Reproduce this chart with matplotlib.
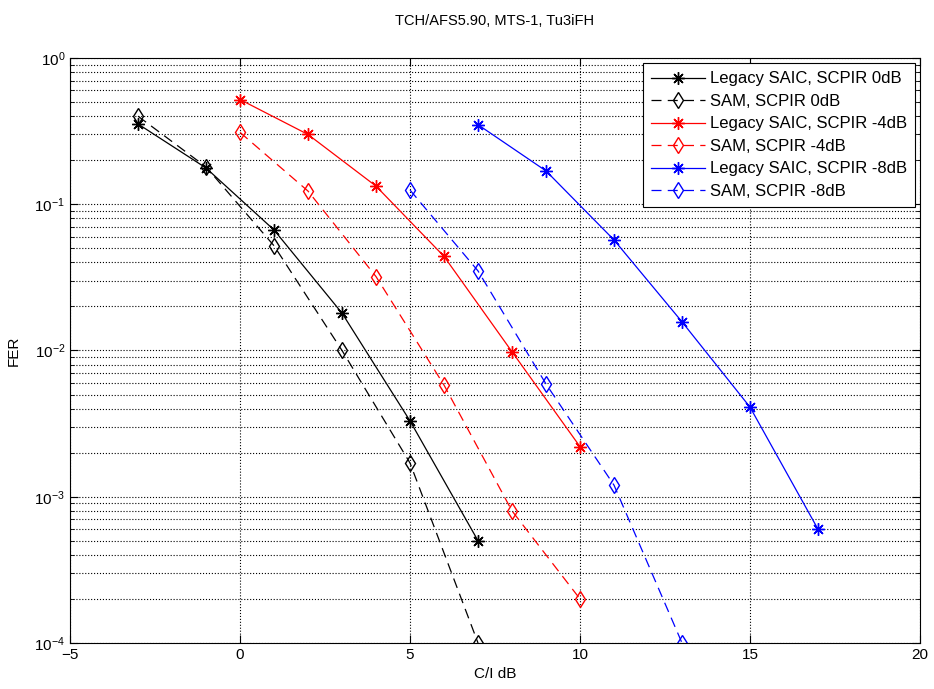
import numpy as np
import matplotlib.pyplot as plt

plt.rcParams['font.family'] = ['Liberation Sans', 'DejaVu Sans']
plt.rcParams['font.size'] = 10

# C/I values (dB) and FER readings
x_leg0 = [-3, -1, 1, 3, 5, 7]
fer_leg0 = [0.354, 0.177, 0.0667, 0.018, 0.0033, 5.0e-4]
x_sam0 = [-3, -1, 1, 3, 5, 7]
fer_sam0 = [0.40, 0.18, 0.052, 0.010, 0.0017, 1.0e-4]

x_leg4 = [0, 2, 4, 6, 8, 10]
fer_leg4 = [0.52, 0.30, 0.133, 0.044, 0.0098, 0.0022]
x_sam4 = [0, 2, 4, 6, 8, 10]
fer_sam4 = [0.31, 0.123, 0.032, 0.0058, 8.0e-4, 2.0e-4]

x_leg8 = [7, 9, 11, 13, 15, 17]
fer_leg8 = [0.35, 0.169, 0.057, 0.0157, 0.0041, 6.0e-4]
x_sam8 = [5, 7, 9, 11, 13]
fer_sam8 = [0.125, 0.035, 0.0059, 0.0012, 1.0e-4]

fig = plt.figure(figsize=(9.34, 6.89), dpi=100)
ax = fig.add_axes([0.075, 0.0668, 0.91, 0.849])

star = (8, 2, 0)
ax.semilogy(x_leg0, fer_leg0, 'k-', marker=star, ms=9, mew=1.0, lw=0.9,
            label='Legacy SAIC, SCPIR 0dB')
ax.semilogy(x_sam0, fer_sam0, 'k--', marker='d', mfc='none', ms=8, lw=0.9,
            dashes=(8, 5), label='SAM, SCPIR 0dB')
ax.semilogy(x_leg4, fer_leg4, 'r-', marker=star, ms=9, mew=1.0, lw=0.9,
            label='Legacy SAIC, SCPIR -4dB')
ax.semilogy(x_sam4, fer_sam4, 'r--', marker='d', mfc='none', ms=8, lw=0.9,
            dashes=(8, 5), label='SAM, SCPIR -4dB')
ax.semilogy(x_leg8, fer_leg8, 'b-', marker=star, ms=9, mew=1.0, lw=0.9,
            label='Legacy SAIC, SCPIR -8dB')
ax.semilogy(x_sam8, fer_sam8, 'b--', marker='d', mfc='none', ms=8, lw=0.9,
            dashes=(8, 5), label='SAM, SCPIR -8dB')

ax.set_xlim(-5, 20)
ax.set_ylim(1e-4, 1)
ax.set_xticks([-5, 0, 5, 10, 15, 20])
ax.grid(True, which='major', linestyle=':', color='k', lw=0.8)
ax.grid(True, which='minor', axis='y', linestyle=':', color='k', lw=0.8)
ax.tick_params(which='both', direction='in', top=True, right=True, labelsize=11)
ax.tick_params(which='major', length=6)
ax.tick_params(which='minor', length=3)
for s in ax.spines.values():
    s.set_linewidth(0.8)

ax.set_title('TCH/AFS5.90, MTS-1, Tu3iFH', pad=24, fontsize=10.5)
ax.set_xlabel('C/I dB', labelpad=4, fontsize=11)
ax.set_ylabel('FER', labelpad=10, fontsize=11)

leg = ax.legend(loc='upper right', fancybox=False, framealpha=1, edgecolor='k',
                fontsize=12, handlelength=3.2, borderaxespad=0.3,
                labelspacing=0.45, borderpad=0.5, handletextpad=0.3)
leg.get_frame().set_linewidth(0.8)

fig.savefig('out.png', dpi=100)
